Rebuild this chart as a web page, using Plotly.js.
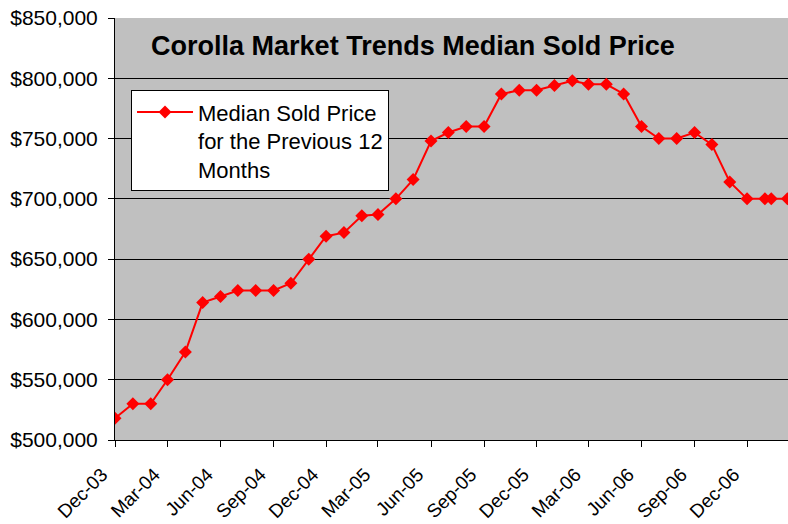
<!DOCTYPE html>
<html>
<head>
<meta charset="utf-8">
<script src="https://cdn.plot.ly/plotly-3.0.1.min.js"></script>
<style>html,body{margin:0;padding:0;background:#fff;}#chart{width:788px;height:524px;}</style>
</head>
<body>
<div id="chart"></div>
<script>
const dates = [
  '2003-12-01','2004-01-01','2004-02-01','2004-03-01','2004-04-01','2004-05-01',
  '2004-06-01','2004-07-01','2004-08-01','2004-09-01','2004-10-01','2004-11-01',
  '2004-12-01','2005-01-01','2005-02-01','2005-03-01','2005-04-01','2005-05-01',
  '2005-06-01','2005-07-01','2005-08-01','2005-09-01','2005-10-01','2005-11-01',
  '2005-12-01','2006-01-01','2006-02-01','2006-03-01','2006-04-01','2006-05-01',
  '2006-06-01','2006-07-01','2006-08-01','2006-09-01','2006-10-01','2006-11-01',
  '2006-12-01','2007-01-01','2007-01-12','2007-02-09'
];
const medianPrice = [
  518000, 530000, 530000, 550000, 573000, 614000,
  619000, 624000, 624000, 624000, 630000, 650000,
  669000, 672000, 686000, 687000, 700000, 716000,
  748000, 755000, 760000, 760000, 787000, 790000,
  790000, 794000, 798000, 795000, 795000, 787000,
  760000, 750000, 750000, 755000, 745000, 714000,
  700000, 700000, 700000, 700000
];
const seriesName = 'Median Sold Price<br>for the Previous 12<br>Months';
const chartTitle = 'Corolla Market Trends Median Sold Price';

const font = 'Arial, "Liberation Sans", sans-serif';

const trace = {
  x: dates,
  y: medianPrice,
  type: 'scatter',
  mode: 'lines+markers',
  name: seriesName,
  line: {color: '#FF0000', width: 2},
  marker: {symbol: 'diamond', size: 10, color: '#FF0000'},
  showlegend: true
};

const layout = {
  width: 788,
  height: 524,
  margin: {l: 115, r: 0, t: 18, b: 84},
  paper_bgcolor: '#FFFFFF',
  plot_bgcolor: '#C0C0C0',
  font: {family: font, size: 19, color: '#000'},
  title: {
    text: '<b>' + chartTitle + '</b>',
    font: {family: font, size: 27, color: '#000'},
    x: 0.524, xref: 'container', xanchor: 'center',
    y: 0.914, yref: 'container', yanchor: 'middle'
  },
  showlegend: true,
  legend: {
    x: 0.0238, y: 0.829, xanchor: 'left', yanchor: 'top',
    bgcolor: '#FFFFFF', bordercolor: '#000', borderwidth: 1,
    font: {family: font, size: 22, color: '#000'},
    valign: 'top', itemwidth: 56
  },
  xaxis: {
    type: 'date',
    range: ['2003-12-01', '2007-02-10'],
    tick0: '2003-12-01',
    dtick: 'M3',
    tickformat: '%b-%y',
    tickangle: -45,
    ticks: 'outside', ticklen: 6, tickcolor: '#000', tickwidth: 1,
    showline: true, linecolor: '#000', linewidth: 1,
    showgrid: false, zeroline: false,
    tickfont: {family: font, size: 19, color: '#000'},
    ticklabelshift: -13,
    ticklabelstandoff: 9
  },
  yaxis: {
    range: [500000, 850000],
    dtick: 50000,
    tickformat: '$,.0f',
    ticks: 'outside', ticklen: 6, tickcolor: '#000', tickwidth: 1,
    showline: true, linecolor: '#000', linewidth: 1,
    showgrid: true, gridcolor: '#000', gridwidth: 1,
    zeroline: false,
    tickfont: {family: font, size: 21, color: '#000'},
    ticklabelstandoff: 6
  }
};

Plotly.newPlot('chart', [trace], layout, {displayModeBar: false, staticPlot: true});
</script>
</body>
</html>
